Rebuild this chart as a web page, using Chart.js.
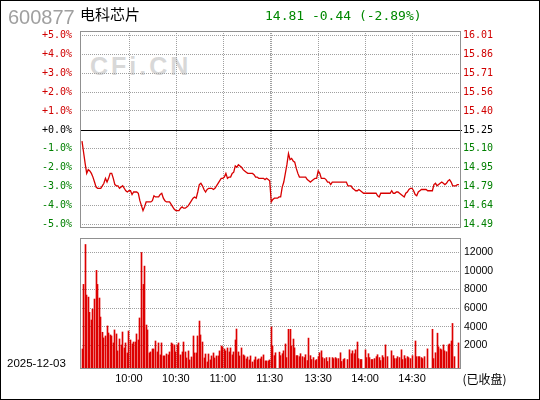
<!DOCTYPE html>
<html><head><meta charset="utf-8">
<script src="https://cdn.jsdelivr.net/npm/chart.js@4.4.1/dist/chart.umd.min.js"></script>
<style>
html,body{margin:0;padding:0;background:#fff;}
#wrap{position:relative;width:540px;height:400px;overflow:hidden;background:#fff;}
#frame{position:absolute;left:0;top:0;width:538px;height:398px;border:1px solid #000;pointer-events:none;}
canvas{position:absolute;left:0;top:0;}
.t{position:absolute;white-space:nowrap;line-height:1;}
</style></head><body>
<div id="wrap">
<div class="t" style="left:90px;top:52px;font:bold 25px 'Liberation Sans';letter-spacing:3px;color:#d8d8d8;">CFi.CN</div>
<canvas id="c1" width="540" height="400"></canvas>
<canvas id="c2" width="540" height="400"></canvas>
<div class="t" style="left:8px;top:7px;font-size:20px;font-family:'Liberation Sans';color:#a0a0a0;">600877</div>
<div class="t" style="left:80px;top:6px;font-size:15px;font-family:'Noto Sans CJK SC';color:#000;">电科芯片</div>
<div class="t" style="left:265px;top:8.5px;font-size:13px;font-family:'DejaVu Sans Mono';color:#008800;">14.81 -0.44 (-2.89%)</div>
<div class="t" style="left:7px;top:357.6px;font-size:11.5px;font-family:'Liberation Sans';color:#000;">2025-12-03</div>
<div class="t" style="left:462.5px;top:373.3px;font-size:12px;font-family:'Noto Sans CJK SC';color:#000;">(已收盘)</div>
<div id="frame"></div>
</div>
<script>
const prevClose = 15.25;
const pctTicks = [-5,-4,-3,-2,-1,0,1,2,3,4,5];
const pctLabels = ['-5.0%','-4.0%','-3.0%','-2.0%','-1.0%','+0.0%','+1.0%','+2.0%','+3.0%','+4.0%','+5.0%'];
const priceLabels = ['14.49','14.64','14.79','14.95','15.10','15.25','15.40','15.56','15.71','15.86','16.01'];
const gridIdx = [30,60,90,120,121,151,181,211];
const timeLabels = ['10:00','10:30','11:00','11:30','','13:30','14:00','14:30'];
const volTicks = [2000,4000,6000,8000,10000,12000];
const volLabels = ['2000','4000','6000','8000','10000','12000'];

// one value per minute: 9:30-11:30 (121) and 13:00-15:00 (121)
const prices = [
15.16,15.07,14.98,14.90,14.93,14.92,14.90,14.87,14.83,14.79,
14.78,14.78,14.78,14.80,14.82,14.86,14.83,14.86,14.90,14.90,
14.86,14.81,14.80,14.80,14.78,14.79,14.80,14.78,14.76,14.75,
14.76,14.76,14.73,14.75,14.75,14.75,14.74,14.68,14.64,14.60,
14.63,14.67,14.67,14.67,14.67,14.68,14.72,14.71,14.71,14.71,
14.73,14.74,14.70,14.68,14.67,14.67,14.67,14.65,14.63,14.61,
14.60,14.60,14.60,14.62,14.63,14.62,14.62,14.63,14.64,14.66,
14.68,14.70,14.71,14.70,14.75,14.81,14.82,14.80,14.77,14.75,
14.77,14.78,14.78,14.78,14.77,14.78,14.80,14.82,14.84,14.86,
14.86,14.87,14.90,14.86,14.87,14.87,14.90,14.91,14.96,14.95,
14.97,14.96,14.95,14.93,14.92,14.91,14.90,14.90,14.90,14.90,
14.89,14.87,14.87,14.86,14.86,14.86,14.86,14.85,14.86,14.85,
14.84,
14.67,14.69,14.70,14.70,14.70,14.71,14.71,14.79,14.83,14.90,
14.97,15.06,15.01,15.02,15.00,14.99,14.94,14.90,14.87,14.87,
14.87,14.87,14.87,14.85,14.84,14.83,14.84,14.85,14.86,14.86,
14.92,14.90,14.86,14.86,14.86,14.85,14.83,14.83,14.81,14.83,
14.83,14.83,14.83,14.83,14.83,14.83,14.83,14.83,14.83,14.80,
14.80,14.80,14.78,14.77,14.76,14.76,14.77,14.76,14.75,14.74,
14.74,
14.74,14.74,14.74,14.74,14.74,14.74,14.74,14.72,14.71,14.74,
14.74,14.74,14.74,14.74,14.74,14.74,14.76,14.74,14.74,14.75,
14.75,14.74,14.73,14.72,14.71,14.74,14.75,14.77,14.78,14.78,
14.76,14.73,14.72,14.75,14.76,14.77,14.77,14.77,14.77,14.76,
14.76,14.76,14.76,14.81,14.82,14.80,14.81,14.82,14.83,14.82,
14.81,14.82,14.84,14.85,14.83,14.80,14.80,14.80,14.81,14.81
];

const volumes = [
1600,8560,12860,7410,7190,5550,4720,5900,6980,10070,
8560,7090,5040,3400,2790,3000,4080,3320,3110,3000,
2250,3650,3220,1390,2680,2030,3430,1710,2250,1170,
3540,2570,2140,2350,2350,3220,2570,4940,12000,8560,
10530,4180,3650,1170,1280,1600,1600,2460,1280,2250,
960,2250,850,850,1060,960,1280,2250,2140,2030,
1280,2030,2250,960,1280,2350,1280,630,1390,420,
740,3000,1170,1170,3000,4610,3110,2350,630,1060,
200,1060,420,850,1170,630,850,850,1390,1920,
1820,1600,1390,1710,1280,1710,960,1280,2570,3750,
1280,850,1710,960,850,530,740,420,850,200,
420,740,420,530,530,740,960,310,310,310,420,
3970,1930,880,1190,0,1260,880,1090,1400,2140,
670,3720,3720,1930,2670,1720,880,880,770,1090,
770,670,980,350,2770,880,460,670,350,460,
770,1190,1400,670,560,670,250,670,0,670,
560,670,560,560,1190,250,460,560,0,460,
1510,1090,1400,1090,1510,2350,560,460,460,0,
1510,670,1090,670,460,460,560,770,980,670,
350,880,670,2040,770,0,0,1400,880,560,
560,770,670,1510,460,880,560,770,670,560,
880,0,2460,770,770,770,670,560,770,0,
1610,0,0,3720,560,1190,3300,1830,1610,1510,
2040,1400,1300,2040,2140,2460,4350,770,0,0,
2250
];

const XMIN = -1.28, XMAX = 242.3;
const PMIN = -5.18, PMAX = 5.225;
const VMIN = -560, VMAX = 13560;

function pctColor(v){ return v > 0 ? '#d00000' : (v < 0 ? '#008000' : '#000000'); }

Chart.defaults.font.family = 'Liberation Sans';
Chart.defaults.color = '#000';

const boxPlugin = {
  id:'box',
  afterDraw(chart){
    const a = chart.chartArea, ctx = chart.ctx;
    ctx.save();
    ctx.strokeStyle = '#909090';
    ctx.lineWidth = 1;
    ctx.setLineDash([]);
    ctx.strokeRect(Math.round(a.left)+0.5, Math.round(a.top)+0.5, Math.round(a.right-a.left)-1, Math.round(a.bottom-a.top)-1);
    ctx.restore();
  }
};
const vGridPlugin = {
  id:'vgrid',
  beforeDatasetsDraw(chart){
    const s = chart.scales.x, a = chart.chartArea, ctx = chart.ctx;
    ctx.save();
    ctx.strokeStyle = '#a0a0a0';
    ctx.lineWidth = 1;
    ctx.setLineDash([1,1]);
    gridIdx.forEach(v=>{
      const x = Math.round(s.getPixelForValue(v)) + 0.5;
      ctx.beginPath(); ctx.moveTo(x, a.top); ctx.lineTo(x, a.bottom); ctx.stroke();
    });
    ctx.restore();
  }
};
const zeroPlugin = {
  id:'zero',
  beforeDatasetsDraw(chart){
    const s = chart.scales.yl, a = chart.chartArea, ctx = chart.ctx;
    const y = Math.round(s.getPixelForValue(0)) + 0.5;
    ctx.save();
    ctx.strokeStyle = '#000';
    ctx.lineWidth = 1;
    ctx.beginPath();
    ctx.moveTo(a.left, y);
    ctx.lineTo(a.right + 1, y);
    ctx.stroke();
    ctx.restore();
  }
};
const snapBars = {
  id:'snap',
  beforeDatasetsDraw(chart){
    chart.getDatasetMeta(0).data.forEach(el=>{ el.x = Math.floor(el.x) + 0.5; });
  }
};

new Chart(document.getElementById('c1'), {
  type:'line',
  data:{datasets:[{
    data: prices.map((p,i)=>({x:i, y:p})),
    yAxisID:'yp', borderColor:'#d80000', borderWidth:1.3,
    pointRadius:0, tension:0, fill:false
  }]},
  options:{
    responsive:false, animation:false, events:[],
    layout:{padding:{top:31, bottom:172, left:0, right:0}},
    plugins:{legend:{display:false}, tooltip:{enabled:false}},
    scales:{
      x:{type:'linear', min:XMIN, max:XMAX, offset:false,
         afterBuildTicks:s=>{ s.ticks = gridIdx.map(v=>({value:v})); },
         ticks:{display:false}, grid:{display:false, drawTicks:false}, border:{display:false},
         afterFit:s=>{s.height=0;}},
      yl:{
        position:'left', min:PMIN, max:PMAX,
        afterBuildTicks:s=>{ s.ticks = pctTicks.map(v=>({value:v})); },
        ticks:{callback:(v,i)=>pctLabels[i], color:ctx=>pctColor(pctTicks[ctx.index]),
               font:{family:'DejaVu Sans Mono', size:10}, padding:8},
        grid:{color:ctx=> (ctx.tick && ctx.tick.value===0) ? 'rgba(0,0,0,0)' : '#a0a0a0', drawTicks:false},
        border:{display:false, dash:[1,1]},
        afterFit:s=>{s.width=80;}
      },
      yp:{
        position:'right', min:prevClose*(1+PMIN/100), max:prevClose*(1+PMAX/100),
        afterBuildTicks:s=>{ s.ticks = pctTicks.map(k=>({value:prevClose*(1+k/100)})); },
        ticks:{callback:(v,i)=>priceLabels[i], color:ctx=>pctColor(pctTicks[ctx.index]),
               font:{family:'DejaVu Sans Mono', size:10}, padding:2},
        grid:{display:false, drawTicks:false}, border:{display:false},
        afterFit:s=>{s.width=79;}
      }
    }
  },
  plugins:[vGridPlugin, zeroPlugin, boxPlugin]
});

new Chart(document.getElementById('c2'), {
  type:'bar',
  data:{datasets:[{
    data: volumes.map((v,i)=>({x:i, y: v>0 ? v : null})),
    backgroundColor:'#dd0000', borderWidth:0, barThickness:1, base:VMIN, grouped:false
  }]},
  options:{
    responsive:false, animation:false, events:[],
    layout:{padding:{top:238, bottom:0, left:80, right:0}},
    plugins:{legend:{display:false}, tooltip:{enabled:false}},
    scales:{
      x:{type:'linear', min:XMIN, max:XMAX, offset:false,
        afterBuildTicks:s=>{ s.ticks = gridIdx.map(v=>({value:v})); },
        ticks:{display:true, autoSkip:false, maxRotation:0, callback:(v,i)=>timeLabels[i],
               font:{family:'Liberation Sans', size:11}, padding:3, color:'#000'},
        grid:{display:false, offset:false, drawTicks:false}, border:{display:false},
        afterFit:s=>{s.height=31;}
      },
      y:{
        position:'right', min:VMIN, max:VMAX,
        afterBuildTicks:s=>{ s.ticks = volTicks.map(v=>({value:v})); },
        ticks:{callback:(v,i)=>volLabels[i], color:'#000', font:{family:'Liberation Sans', size:10.5}, padding:3},
        grid:{color:'#a0a0a0', drawTicks:false},
        border:{display:false, dash:[1,1]},
        afterFit:s=>{s.width=79;}
      }
    }
  },
  plugins:[vGridPlugin, snapBars, boxPlugin]
});
</script>
</body></html>
